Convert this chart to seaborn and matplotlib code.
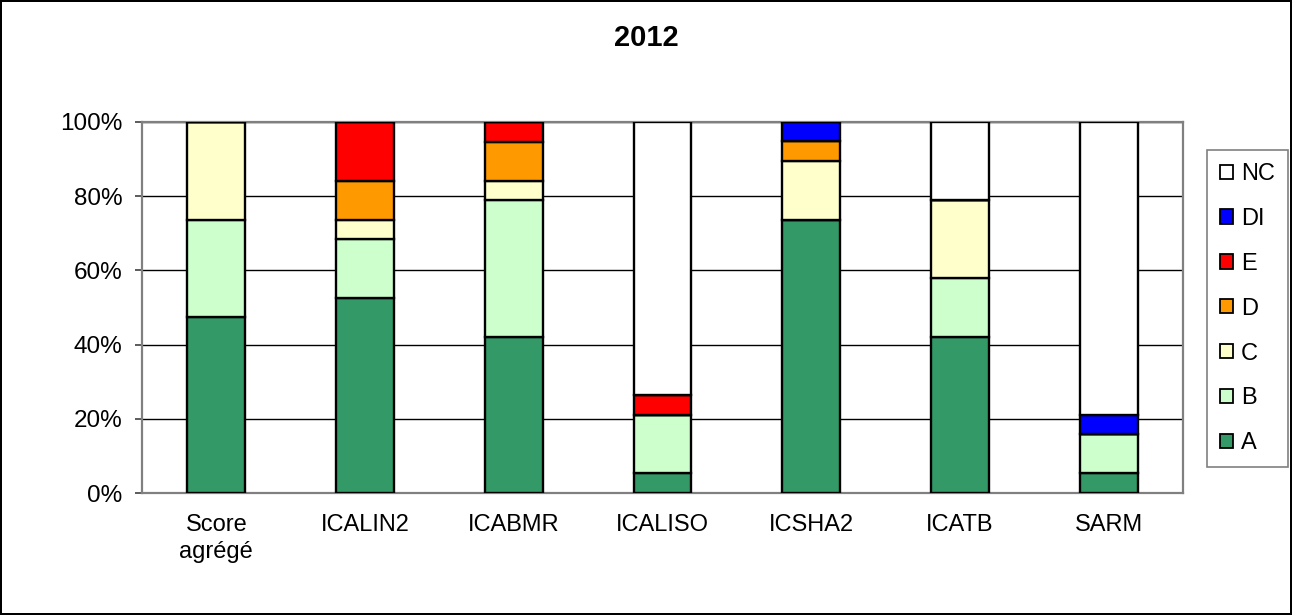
import matplotlib
matplotlib.use("Agg")
import matplotlib.pyplot as plt
from matplotlib.patches import Patch
from matplotlib.ticker import FixedLocator, NullFormatter
import seaborn as sns
import pandas as pd

categories = ["Score\nagrégé", "ICALIN2", "ICABMR", "ICALISO", "ICSHA2", "ICATB", "SARM"]
levels = ["NC", "DI", "E", "D", "C", "B", "A"]  # legend order, top to bottom
colors = {"NC": "#FFFFFF", "DI": "#0000FF", "E": "#FF0000", "D": "#FF9900",
          "C": "#FFFFCC", "B": "#CCFFCC", "A": "#339966"}

# percentages per category
pct_A = [47.4, 52.6, 42.1, 5.3, 73.7, 42.1, 5.3]
pct_B = [26.3, 15.8, 36.8, 15.8, 0.0, 15.8, 10.5]
pct_C = [26.3, 5.3, 5.3, 0.0, 15.8, 21.1, 0.0]
pct_D = [0.0, 10.5, 10.5, 0.0, 5.3, 0.0, 0.0]
pct_E = [0.0, 15.8, 5.3, 5.3, 0.0, 0.0, 0.0]
pct_DI = [0.0, 0.0, 0.0, 0.0, 5.3, 0.0, 5.3]
pct_NC = [0.0, 0.0, 0.0, 73.7, 0.0, 21.1, 78.9]

series = {"A": pct_A, "B": pct_B, "C": pct_C, "D": pct_D, "E": pct_E,
          "DI": pct_DI, "NC": pct_NC}

rows = []
for lvl, vals in series.items():
    for cat, v in zip(categories, vals):
        rows.append({"cat": cat, "level": lvl, "pct": v})
df = pd.DataFrame(rows)
df["cat"] = pd.Categorical(df["cat"], categories=categories, ordered=True)

sns.set_style("white")
plt.rcParams["font.family"] = ["Liberation Sans", "DejaVu Sans"]
plt.rcParams["text.color"] = "black"
plt.rcParams["xtick.color"] = "black"
plt.rcParams["ytick.color"] = "black"

fig = plt.figure(figsize=(12.92, 6.15), dpi=100, facecolor="white",
                 edgecolor="black", linewidth=1.5)
ax = fig.add_axes([142 / 1292, 1 - 493 / 615, (1183 - 142) / 1292, (493 - 122) / 615])

sns.histplot(data=df, x="cat", hue="level", weights="pct", hue_order=levels,
             multiple="stack", discrete=True, shrink=0.39, palette=colors,
             edgecolor="black", linewidth=1.7, alpha=1, ax=ax, legend=False,
             zorder=3)

ax.set_ylim(0, 100)
ax.set_xlim(-0.5, len(categories) - 0.5)
ax.set_yticks([0, 20, 40, 60, 80, 100])
ax.set_yticklabels([f"{v}%" for v in [0, 20, 40, 60, 80, 100]], fontsize=17.5)
ax.set_xticks(range(len(categories)))
ax.set_xticklabels(categories, fontsize=17, linespacing=1.3)
ax.xaxis.set_minor_locator(FixedLocator([i - 0.5 for i in range(len(categories) + 1)]))
ax.xaxis.set_minor_formatter(NullFormatter())
ax.tick_params(axis="x", which="major", length=0, pad=15, labelcolor="black")
ax.tick_params(axis="x", which="minor", length=5, width=1.2, color="#808080",
               direction="out")
ax.tick_params(axis="y", length=5, width=1.2, color="#404040", pad=9,
               direction="out", left=True, labelcolor="black")
ax.set_xlabel("")
ax.set_ylabel("")

ax.yaxis.grid(True, color="black", linewidth=1.0)
ax.set_axisbelow(True)
for s in ax.spines.values():
    s.set_visible(True)
    s.set_color("#808080")
    s.set_linewidth(1.6)

fig.text(0.5, 1 - 38 / 615, "2012", ha="center", va="center",
         fontsize=21, fontweight="bold", color="black")

handles = [Patch(facecolor=colors[l], edgecolor="black", linewidth=1.3, label=l)
           for l in levels]
leg = fig.legend(handles=handles, loc="upper left",
                 bbox_to_anchor=(1207 / 1292, 1 - 150 / 615),
                 bbox_transform=fig.transFigure, borderaxespad=0,
                 fontsize=17, frameon=True, fancybox=False, framealpha=1,
                 edgecolor="#808080", labelspacing=0.97, handlelength=0.55,
                 handleheight=0.55, handletextpad=0.35, borderpad=0.55)
leg.get_frame().set_linewidth(1.2)
for t in leg.get_texts():
    t.set_color("black")

fig.savefig("out.png", dpi=100)
